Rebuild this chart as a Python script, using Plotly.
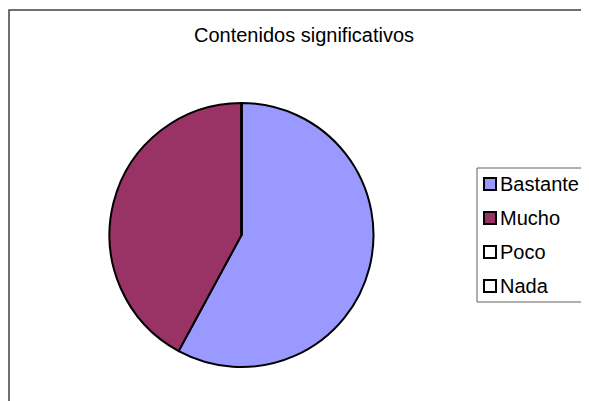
import plotly.graph_objects as go

# the page body adds an 8px margin, so the figure is drawn 8px smaller
# and every position below is given in window pixels and shifted back
OFF = 8
W, H = 589 - OFF, 401 - OFF

labels = ["Bastante", "Mucho", "Poco", "Nada"]
values = [11, 8, 0, 0]
colors = ["#9999FF", "#993366", "#FFFFFF", "#FFFFFF"]

FONT = "Arial, Liberation Sans, sans-serif"


def px(x):
    return (x - OFF) / W


def py(y):
    return 1 - (y - OFF) / H


# pie centre and radius in window pixels
cx, cy, r = 241.5, 235, 132

fig = go.Figure(
    go.Pie(
        labels=labels,
        values=values,
        sort=False,
        direction="clockwise",
        rotation=0,
        textinfo="none",
        hoverinfo="label+value+percent",
        showlegend=False,
        marker=dict(colors=colors, line=dict(color="#000000", width=2)),
        domain=dict(x=[px(cx - r), px(cx + r)], y=[py(cy + r), py(cy - r)]),
    )
)

# outer chart frame (only left and top edges are visible)
fig.add_shape(
    type="rect", xref="paper", yref="paper",
    x0=px(9), x1=1.1, y0=-0.1, y1=py(10),
    line=dict(color="#404040", width=1.5),
)

# legend frame
fig.add_shape(
    type="rect", xref="paper", yref="paper",
    x0=px(477), x1=px(587), y0=py(302), y1=py(168),
    line=dict(color="#606060", width=1),
)

# legend entries
for i, (lab, col) in enumerate(zip(labels, colors)):
    yc = 184 + 34 * i
    fig.add_shape(
        type="rect", xref="paper", yref="paper",
        x0=px(484), x1=px(496), y0=py(yc + 6), y1=py(yc - 6),
        fillcolor=col,
        line=dict(color="#000000", width=2),
    )
    fig.add_annotation(
        text=lab,
        xref="paper", yref="paper",
        x=px(498), y=py(yc),
        xanchor="left", yanchor="middle",
        showarrow=False,
        font=dict(family=FONT, size=20, color="#000000"),
    )

fig.add_annotation(
    text="Contenidos significativos",
    xref="paper", yref="paper",
    x=px(304), y=py(35),
    xanchor="center", yanchor="middle",
    showarrow=False,
    font=dict(family=FONT, size=20, color="#000000"),
)

fig.update_layout(
    width=W,
    height=H,
    margin=dict(l=0, r=0, t=0, b=0),
    paper_bgcolor="#FFFFFF",
    showlegend=False,
)

fig.write_html("out.html")
